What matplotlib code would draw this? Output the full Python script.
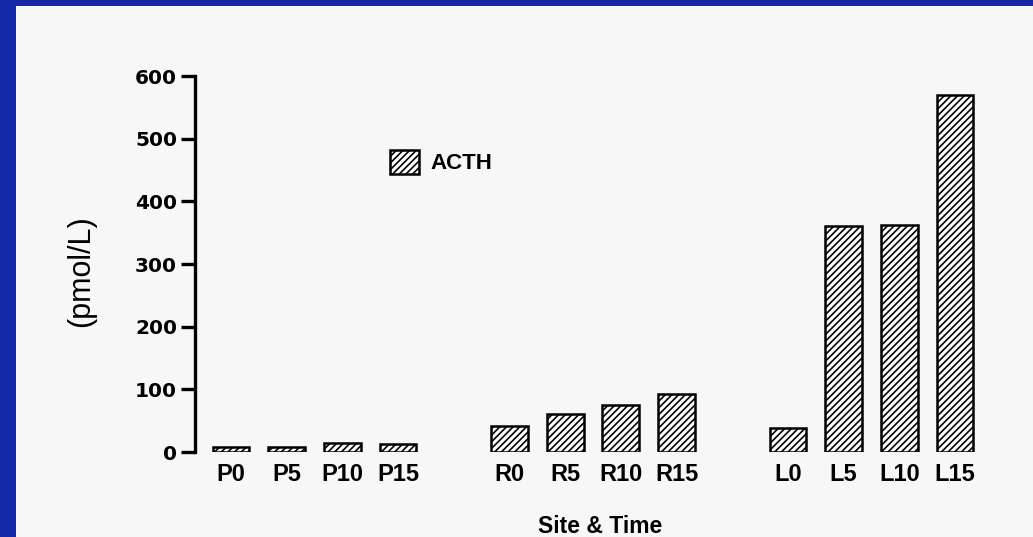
import numpy as np
import matplotlib.pyplot as plt
from matplotlib.patches import Patch, Rectangle

# ACTH by sampling site & time
sites = ['P0', 'P5', 'P10', 'P15', 'R0', 'R5', 'R10', 'R15', 'L0', 'L5', 'L10', 'L15']
acth = [8, 8, 14, 12, 42, 60, 75, 92, 38, 360, 362, 570]
groups = ['P', 'P', 'P', 'P', 'R', 'R', 'R', 'R', 'L', 'L', 'L', 'L']
y_ticks = [0, 100, 200, 300, 400, 500, 600]

plt.rcParams['hatch.linewidth'] = 1.2

W, H = 1033, 537
fig = plt.figure(figsize=(W / 100, H / 100), dpi=100)
fig.patch.set_facecolor('#1428a8')
# scanned page on the blue slide
fig.patches.append(Rectangle((16 / W, 0), 1, (H - 6) / H, transform=fig.transFigure,
                             facecolor='#f7f7f7', edgecolor='none', zorder=-10))

ax = fig.add_axes([195 / W, 85 / H, (W - 195) / W, 376 / H])
ax.patch.set_alpha(0)

# bar slots: groups separated by one empty slot
pos = []
x = 0
for i, g in enumerate(groups):
    if i > 0 and g != groups[i - 1]:
        x += 1
    pos.append(x)
    x += 1

ax.bar(pos, acth, width=0.66, color='white', edgecolor='black', hatch='/////', linewidth=1.8)

ax.set_xlim(-0.646, 14.4)
ax.set_ylim(0, 600)
for s in ['top', 'right', 'bottom']:
    ax.spines[s].set_visible(False)
ax.spines['left'].set_linewidth(2.4)

ax.set_yticks(y_ticks)
ax.set_yticklabels([str(t) for t in y_ticks], fontsize=14.5, fontweight='bold', family='DejaVu Sans')
ax.tick_params(axis='y', length=10, width=2.4, pad=3)

ax.set_xticks(pos)
ax.set_xticklabels(sites, fontsize=17, fontweight='bold', family='Liberation Sans')
ax.tick_params(axis='x', length=0, pad=8)

ax.set_ylabel('(pmol/L)', fontsize=22, family='Liberation Sans')
ax.yaxis.set_label_coords(-0.118, 0.481)
ax.set_xlabel('Site & Time', fontsize=16.5, fontweight='bold', family='Liberation Sans')
ax.xaxis.set_label_coords(0.483, -0.168)

handles = [Patch(facecolor='white', edgecolor='black', hatch='/////', linewidth=1.8, label='ACTH')]
leg = ax.legend(handles=handles, loc='center left', bbox_to_anchor=(390 / W, 1 - 162 / H),
                bbox_transform=fig.transFigure, frameon=False, borderpad=0, borderaxespad=0,
                handlelength=1.3, handleheight=1.35, handletextpad=0.5,
                prop={'family': 'Liberation Sans', 'weight': 'bold', 'size': 16})

fig.savefig('out.png', dpi=100, facecolor=fig.get_facecolor())
